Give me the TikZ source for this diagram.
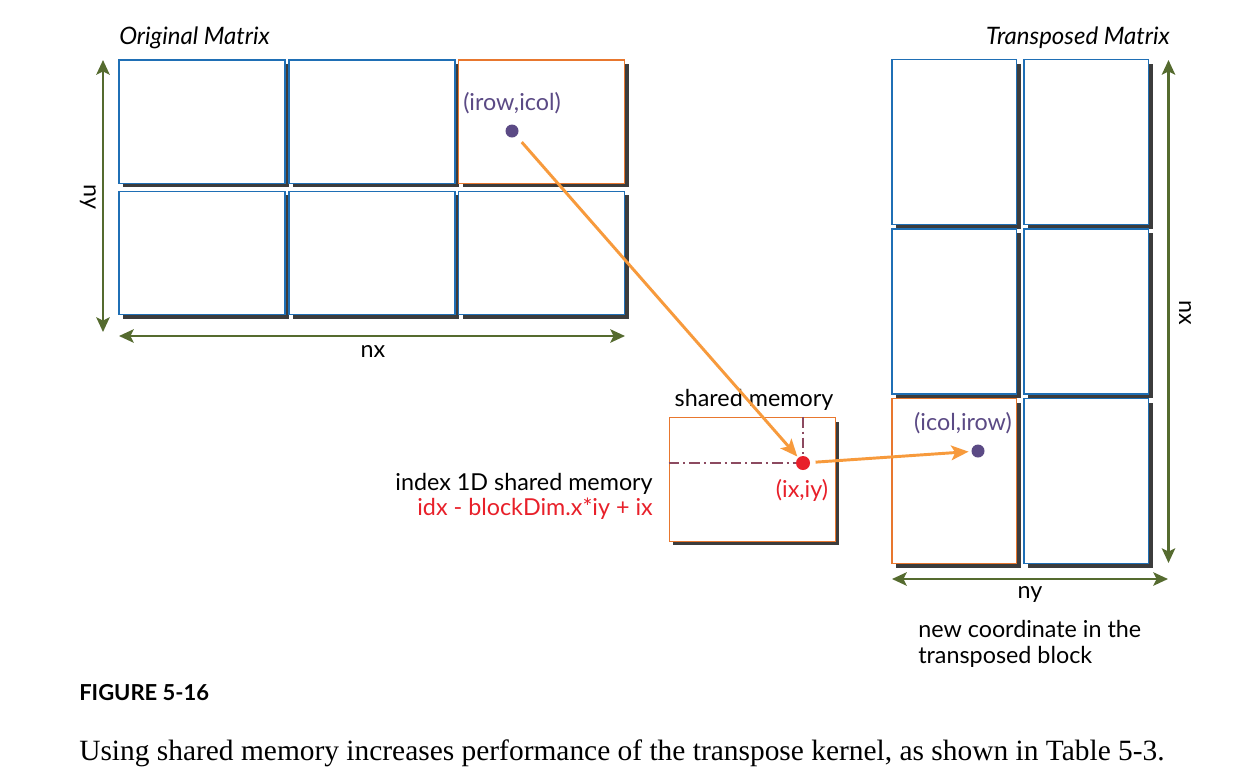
\documentclass[tikz,border=0pt]{standalone}
\usepackage{fontspec}
\setmainfont{Lato}
\newfontfamily\capfont{Liberation Serif}
\usetikzlibrary{shadows,arrows.meta}
\definecolor{cellblue}{HTML}{1F6FB5}
\definecolor{cellorange}{HTML}{E8772E}
\definecolor{dimgreen}{HTML}{556B2F}
\definecolor{arrorange}{HTML}{F79A3C}
\definecolor{ptpurple}{HTML}{5B4A85}
\definecolor{ptred}{HTML}{E8202A}
\definecolor{dashred}{HTML}{8C4A60}
\definecolor{shadowgray}{HTML}{3C3C3C}
\begin{document}
\begin{tikzpicture}[x=0.75pt,y=-0.75pt,
  lbl/.style={font=\fontsize{17.5}{20}\selectfont, inner sep=0pt},
  cell/.style={draw=cellblue, fill=white, line width=1.1pt, inner sep=0pt,
    drop shadow={shadow xshift=3pt, shadow yshift=-3pt, fill=shadowgray, opacity=1}},
  lcell/.style={cell, minimum width=124.5pt, minimum height=92.6pt},
  rcell/.style={cell, minimum width=93.4pt, minimum height=123.75pt},
  hot/.style={draw=cellorange},
  dim/.style={draw=dimgreen, line width=2.2pt, {Stealth[length=11pt,width=10pt,inset=2.5pt]}-{Stealth[length=11pt,width=10pt,inset=2.5pt]}},
  move/.style={draw=arrorange, line width=2.2pt, -{Stealth[length=13pt,width=11pt,inset=3pt]}},
  guide/.style={draw=dashred, line width=1.5pt, dash pattern=on 8pt off 3pt on 1.5pt off 3pt},
  dot/.style={circle, inner sep=0pt, minimum size=9.75pt}
]
\useasboundingbox[fill=white] (0,0) rectangle (1247,776);

% Original matrix
\node[lcell] (a11) at (202,121.5) {};
\node[lcell] (a12) at (372,121.5) {};
\node[lcell,hot] (a13) at (541.5,121.5) {};
\node[lcell] (a21) at (202,253) {};
\node[lcell] (a22) at (372,253) {};
\node[lcell] (a23) at (541.5,253) {};

\node[lbl, anchor=base west, font=\fontsize{18}{20}\selectfont\itshape] (t1) at (119,44) {Original Matrix};
\coordinate (nyT) at (103,60);
\coordinate (nyB) at (103,332);
\draw[dim] (nyT) -- (nyB);
\node[lbl, rotate=-90] (nyl) at (88,197) {ny};
\coordinate (nxL) at (119,336);
\coordinate (nxR) at (625,336);
\draw[dim] (nxL) -- (nxR);
\node[lbl] (nxl) at (373,351) {nx};

\node[lbl, text=ptpurple] (p1l) at (512,103) {(irow,icol)};
\node[dot, fill=ptpurple] (p1) at (512,131) {};

% Transposed matrix
\node[rcell] (b11) at (954.25,142) {};
\node[rcell] (b12) at (1086.25,142) {};
\node[rcell] (b21) at (954.25,311.4) {};
\node[rcell] (b22) at (1086.25,311.4) {};
\node[rcell,hot] (b31) at (954.25,481) {};
\node[rcell] (b32) at (1086.25,481) {};

\node[lbl, anchor=base east, font=\fontsize{18}{20}\selectfont\itshape] (t2) at (1170,44) {Transposed Matrix};
\coordinate (nxT) at (1168.5,60);
\coordinate (nxB) at (1168.5,563);
\draw[dim] (nxT) -- (nxB);
\node[lbl, rotate=-90] (nxl2) at (1185,313) {nx};
\coordinate (nyL) at (892,579);
\coordinate (nyR) at (1168,579);
\draw[dim] (nyL) -- (nyR);
\node[lbl] (nyl2) at (1030,594) {ny};

\node[lbl, text=ptpurple] (p2l) at (963,423) {(icol,irow)};
\node[dot, fill=ptpurple] (p2) at (978,451) {};

\node[lbl, anchor=north west, align=left, font=\fontsize{17.5}{19.5}\selectfont] (note) at (918,620) {new coordinate in the\\transposed block};

% Shared memory
\node[cell, hot, minimum width=124.5pt, minimum height=92.7pt] (sm) at (752.3,479.5) {};
\node[lbl] (sml) at (754,400) {shared memory};
\coordinate (rdc) at (803,463);
\draw[guide] (sm.west |- rdc) -- (rdc);
\draw[guide] (sm.north -| rdc) -- (rdc);
\node[dot, fill=ptred, minimum size=10.5pt] (rd) at (rdc) {};
\node[lbl, text=ptred] (rdl) at (802,490) {(ix,iy)};
\node[lbl, anchor=north east, align=right, font=\fontsize{17.5}{19}\selectfont] (idx) at (653,473) {index 1D shared memory\\\textcolor{ptred}{idx - blockDim.x*iy + ix}};

% Movement arrows
\draw[move, shorten <=6pt, shorten >=1pt] (p1) -- (rd);
\draw[move, shorten <=4pt, shorten >=2pt] (rd) -- (p2);

% Caption
\node[anchor=base west, inner sep=0pt, font=\fontsize{16.5}{20}\selectfont\bfseries] (fig) at (79,700) {FIGURE 5-16};
\node[anchor=base west, inner sep=0pt] (cap) at (79,760) {\resizebox{814pt}{!}{\capfont Using shared memory increases performance of the transpose kernel, as shown in Table 5-3.}};
\end{tikzpicture}
\end{document}
